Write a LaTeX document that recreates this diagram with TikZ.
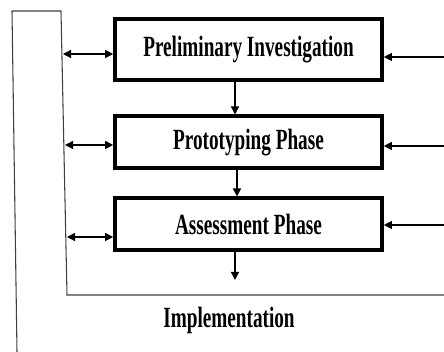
\documentclass[tikz,border=0pt]{standalone}
\usepackage{fontspec}
\newfontfamily\phasefont[FakeStretch=0.655]{Liberation Serif}
\usetikzlibrary{arrows.meta, positioning}

\begin{document}
\begin{tikzpicture}[x=0.75pt, y=-0.75pt, >={Triangle[length=6pt, width=6pt]},
    phasebox/.style={draw, line width=3pt, minimum width=200pt, inner sep=0pt,
        font=\phasefont\bfseries\fontsize{22}{24}\selectfont},
    flow/.style={->, line width=1pt},
    both/.style={<->, line width=1pt},
    rail/.style={draw=black!75, line width=0.8pt}]

    % -------------------------------------------------------------
    % CANVAS
    % -------------------------------------------------------------
    \useasboundingbox (0, 0) rectangle (444, 352);

    % -------------------------------------------------------------
    % THE THREE PHASES
    % -------------------------------------------------------------
    \node[phasebox, minimum height=46pt] (prelim) at (248.5, 49.5) {Preliminary Investigation};
    \node[phasebox, minimum height=39pt] (proto)  at (248.5, 142.5) {Prototyping Phase};
    \node[phasebox, minimum height=39pt] (assess) at (248.5, 224.5) {Assessment Phase};

    % Result
    \node[font=\phasefont\bfseries\fontsize{22}{24}\selectfont] (impl) at (229, 320) {Implementation};

    % -------------------------------------------------------------
    % FEEDBACK FRAME
    % -------------------------------------------------------------
    \coordinate (outerbot) at (17, 352);
    \coordinate (outertop) at (12, 11);
    \coordinate (innertop) at (61, 11);
    \coordinate (innerbot) at (67, 295);
    \coordinate (baseend)  at (444, 295);
    \draw[rail] (outerbot) -- (outertop) -- (innertop) -- (innerbot) -- (baseend);

    % Left rail links (two-way)
    \coordinate (l1) at (63, 54);
    \coordinate (l2) at (65, 145);
    \coordinate (l3) at (67, 237);
    \draw[both] (l1) -- (l1 -| prelim.west);
    \draw[both] (l2) -- (l2 -| proto.west);
    \draw[both] (l3) -- (l3 -| assess.west);

    % Right inputs
    \coordinate (r1) at (444, 57);
    \coordinate (r2) at (444, 146);
    \coordinate (r3) at (444, 225);
    \draw[flow] (r1) -- (r1 -| prelim.east);
    \draw[flow] (r2) -- (r2 -| proto.east);
    \draw[flow] (r3) -- (r3 -| assess.east);

    % -------------------------------------------------------------
    % DOWNWARD FLOW
    % -------------------------------------------------------------
    \coordinate (d1) at (235, 0);
    \coordinate (d2) at (237, 0);
    \coordinate (outlet) at (235, 280);
    \draw[flow] (prelim.south -| d1) -- (proto.north -| d1);
    \draw[flow] (proto.south -| d2) -- (assess.north -| d2);
    \draw[flow] (assess.south -| outlet) -- (outlet);

\end{tikzpicture}
\end{document}
